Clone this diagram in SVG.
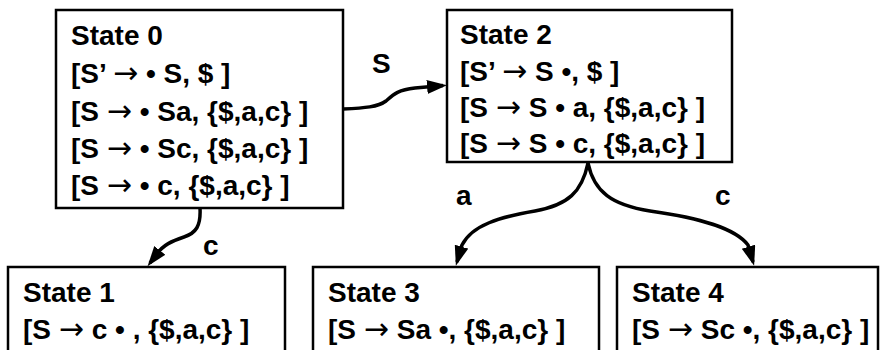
<svg xmlns="http://www.w3.org/2000/svg" width="880" height="350" viewBox="0 0 880 350">
<style>
.box{fill:#fff;stroke:#000;stroke-width:2.5}
text{font-family:"Liberation Sans",Arial,sans-serif;font-weight:bold;font-size:28px;fill:#000}
.ar{font-family:"DejaVu Sans",sans-serif;font-weight:normal;font-size:30px}
.edge{fill:none;stroke:#000;stroke-width:3.5;stroke-linecap:butt}
</style>
<defs>
<marker id="ah" markerUnits="userSpaceOnUse" markerWidth="22" markerHeight="16" refX="16" refY="7" orient="auto">
<path d="M0,0 L20,7 L0,14 z" fill="#000"/>
</marker>
</defs>
<rect width="880" height="350" fill="#fff"/>
<g id="connectors">
<path class="edge" marker-end="url(#ah)" d="M343,109 C365,108 378,107 386,101 C394,94 398,90 415,88 L443,85.5"/>
<path class="edge" marker-end="url(#ah)" d="M200,208 C201,226 196,233 184,237 C172,241 163,245 157,254 L150,263"/>
<path class="edge" marker-end="url(#ah)" d="M588,163 C582,192 568,205 535,211 C500,217 472,225 462,245 L457,262"/>
<path class="edge" marker-end="url(#ah)" d="M588,163 C594,192 612,205 650,211 C700,218 735,228 748,245 L753,262"/>
<text x="372" y="73">S</text>
<text x="203" y="255">c</text>
<text x="456" y="205">a</text>
<text x="715" y="205">c</text>
</g>
<g id="state0">
<rect class="box" x="56" y="10" width="287" height="198"/>
<text x="71" y="45">State 0</text>
<text x="71" y="83">[S’ <tspan class="ar">→</tspan> • S, $ ]</text>
<text x="71" y="121">[S <tspan class="ar">→</tspan> • Sa, {$,a,c} ]</text>
<text x="71" y="158">[S <tspan class="ar">→</tspan> • Sc, {$,a,c} ]</text>
<text x="71" y="195">[S <tspan class="ar">→</tspan> • c, {$,a,c} ]</text>
</g>
<g id="state2">
<rect class="box" x="447" y="10" width="285" height="152"/>
<text x="460" y="44">State 2</text>
<text x="460" y="81">[S’ <tspan class="ar">→</tspan> S •, $ ]</text>
<text x="460" y="117">[S <tspan class="ar">→</tspan> S • a, {$,a,c} ]</text>
<text x="460" y="153">[S <tspan class="ar">→</tspan> S • c, {$,a,c} ]</text>
</g>
<g id="state1">
<rect class="box" x="8" y="267" width="277" height="100"/>
<text x="23" y="302">State 1</text>
<text x="23" y="339">[S <tspan class="ar">→</tspan> c • , {$,a,c} ]</text>
</g>
<g id="state3">
<rect class="box" x="313" y="267" width="286" height="100"/>
<text x="328" y="302">State 3</text>
<text x="328" y="339">[S <tspan class="ar">→</tspan> Sa •, {$,a,c} ]</text>
</g>
<g id="state4">
<rect class="box" x="617" y="267" width="261" height="100"/>
<text x="632" y="302">State 4</text>
<text x="632" y="339">[S <tspan class="ar">→</tspan> Sc •, {$,a,c} ]</text>
</g>
</svg>
